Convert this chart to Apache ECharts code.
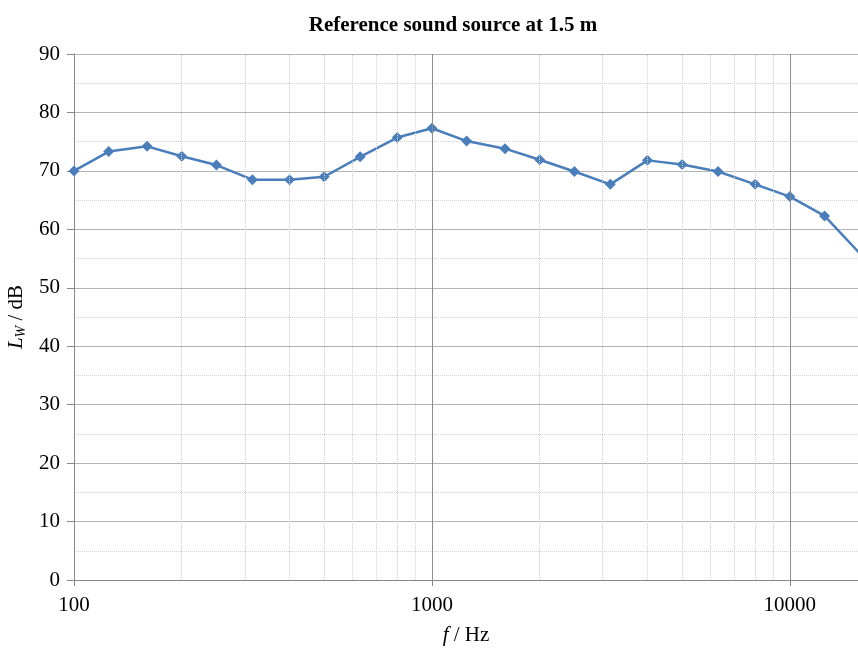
<!DOCTYPE html>
<html>
<head>
<meta charset="utf-8">
<script src="https://cdn.jsdelivr.net/npm/echarts@6/dist/echarts.min.js"></script>
<style>
  html, body { margin: 0; padding: 0; background: #fff; }
  #main { width: 858px; height: 648px; }
</style>
</head>
<body>
<div id="main"></div>
<script>
// 1/3 octave band frequencies and sound power levels
var freqs = [100, 125, 160, 200, 250, 315, 400, 500, 630, 800, 1000, 1250, 1600,
             2000, 2500, 3150, 4000, 5000, 6300, 8000, 10000, 12500, 16000];
var levels = [70.0, 73.3, 74.2, 72.5, 71.0, 68.5, 68.5, 69.0, 72.4, 75.7, 77.3, 75.1, 73.8,
              71.9, 69.9, 67.7, 71.8, 71.1, 69.9, 67.7, 65.6, 62.3, 55.3];
// minor vertical grid lines (2..9 per decade)
var minorFreqs = [200, 300, 400, 500, 600, 700, 800, 900,
                  2000, 3000, 4000, 5000, 6000, 7000, 8000, 9000];
var majorFreqs = [1000, 10000];

var myChart = echarts.init(document.getElementById('main'));

var serif = '"Liberation Serif", "Times New Roman", serif';

var option = {
    backgroundColor: '#fff',
    animation: false,
    title: {
        text: 'Reference sound source at 1.5 m',
        left: 448,
        top: 10,
        textAlign: 'center',
        textStyle: {fontFamily: serif, fontSize: 21, fontWeight: 'bold', color: '#000'}
    },
    grid: {left: 74, right: 0, top: 54, bottom: 68, outerBoundsMode: 'none', containLabel: false},
    xAxis: {
        type: 'log',
        logBase: 10,
        min: 100,
        max: 15500,
        name: '{i|f} / Hz',
        nameLocation: 'middle',
        nameGap: 45,
        nameTextStyle: {
            fontFamily: serif, fontSize: 21, color: '#000',
            rich: {i: {fontFamily: serif, fontSize: 21, fontStyle: 'italic', color: '#000'}}
        },
        axisLine: {lineStyle: {color: '#888', width: 1}},
        axisTick: {show: true, length: 6, lineStyle: {color: '#888'}},
        axisLabel: {
            fontFamily: serif, fontSize: 21, color: '#000', margin: 15, showMaxLabel: false,
            formatter: function (v) { return String(Math.round(v)); }
        },
        splitLine: {show: false}
    },
    yAxis: {
        type: 'value',
        min: 0,
        max: 90,
        interval: 10,
        name: '{i|L}{s|W} / dB',
        nameLocation: 'middle',
        nameGap: 43,
        nameTextStyle: {
            fontFamily: serif, fontSize: 21, color: '#000',
            rich: {
                i: {fontFamily: serif, fontSize: 21, fontStyle: 'italic', color: '#000'},
                s: {fontFamily: serif, fontSize: 14, fontStyle: 'italic', color: '#000', verticalAlign: 'bottom', padding: [9, 0, 0, 0]}
            }
        },
        axisLine: {show: true, lineStyle: {color: '#888', width: 1}},
        axisTick: {show: true, length: 7, lineStyle: {color: '#888'}},
        axisLabel: {fontFamily: serif, fontSize: 21, color: '#000', margin: 14},
        splitLine: {show: true, lineStyle: {color: '#b4b4b4', width: 1}},
        minorTick: {show: false, splitNumber: 2},
        minorSplitLine: {show: true, lineStyle: {color: '#d0d0d0', type: 'dotted', width: 1}}
    },
    series: [
        {
            name: 'grid-minor',
            type: 'line',
            data: [],
            silent: true,
            markLine: {
                silent: true,
                symbol: 'none',
                label: {show: false},
                lineStyle: {color: '#d0d0d0', type: 'dotted', width: 1},
                data: minorFreqs.map(function (f) { return {xAxis: f}; })
            }
        },
        {
            name: 'grid-major',
            type: 'line',
            data: [],
            silent: true,
            markLine: {
                silent: true,
                symbol: 'none',
                label: {show: false},
                lineStyle: {color: '#8c8c8c', type: 'solid', width: 1},
                data: majorFreqs.map(function (f) { return {xAxis: f}; })
            }
        },
        {
            name: 'LW',
            type: 'line',
            data: freqs.map(function (f, i) { return [f, levels[i]]; }),
            symbol: 'diamond',
            symbolSize: 11,
            clip: true,
            lineStyle: {color: '#4a7ebb', width: 2.5},
            itemStyle: {color: '#4a7ebb'}
        }
    ]
};

myChart.setOption(option);
</script>
</body>
</html>
